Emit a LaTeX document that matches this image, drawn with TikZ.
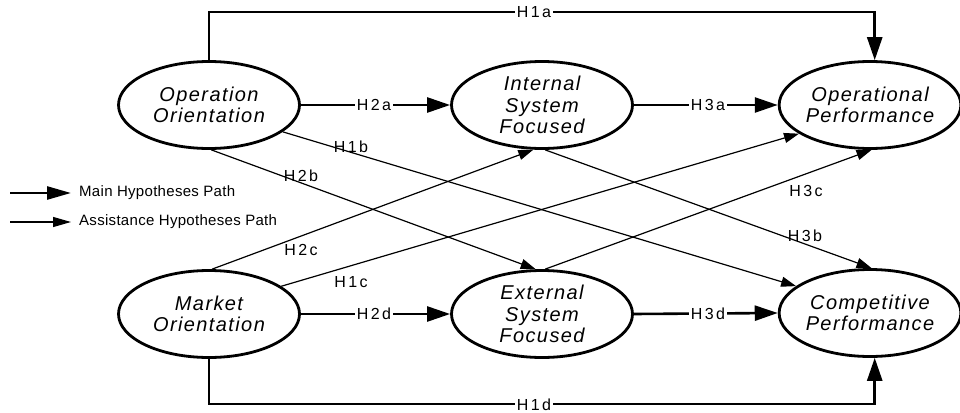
\documentclass[tikz,border=0pt]{standalone}
\usepackage{fontspec}
\setmainfont{Liberation Sans}
\newfontfamily\ellfont[LetterSpace=7]{Liberation Sans}
\newfontfamily\labfont[LetterSpace=15]{Liberation Sans}
\newfontfamily\legfont[LetterSpace=2]{Liberation Sans}
\usetikzlibrary{arrows.meta,shapes.geometric}
\begin{document}
\begin{tikzpicture}[x=1pt,y=-1pt,
  construct/.style={ellipse, draw, line width=2.8pt, minimum width=181pt, minimum height=87pt,
    inner sep=0pt, align=center, font=\ellfont\itshape\fontsize{20}{21.5}\selectfont},
  mainpath/.style={line width=2.6pt, -{Triangle[length=23pt,width=15pt]}},
  assist/.style={line width=1.2pt, -{Triangle[length=15pt,width=10pt]}},
  hyp/.style={font=\labfont\fontsize{16}{18}\selectfont, inner xsep=1.5pt, inner ysep=0pt},
  hypgap/.style={hyp, fill=white},
  legtext/.style={font=\legfont\fontsize{15}{17}\selectfont, inner sep=0pt, anchor=west},
]
\useasboundingbox (0,0) rectangle (960,412);

% constructs
\node[construct] (oo) at (209,105) {Operation\\Orientation};
\node[construct] (isf) at (542,105) {Internal\\System\\Focused};
\node[construct, minimum width=176pt] (op) at (870,105) {Operational\\Performance};
\node[construct] (mo) at (209,314) {Market\\Orientation};
\node[construct] (esf) at (542,314) {External\\System\\Focused};
\node[construct, minimum width=176pt] (cp) at (870,313) {Competitive\\Performance};

% main paths
\draw[mainpath] (oo.east) -- (isf.west);
\draw[mainpath] (isf.east) -- (op.west);
\draw[mainpath] (mo.east) -- (esf.west);
\draw[mainpath] (esf.east) -- (cp.west);
\draw[mainpath] (oo.north) -- ++(0,-48) -| (op.84);
\draw[mainpath] (mo.south) -- ++(0,45) -| (cp.-84);

\node[hypgap] (h2a) at (374,105) {H2a};
\node[hypgap] (h3a) at (708,105) {H3a};
\node[hypgap] (h2d) at (374,314) {H2d};
\node[hypgap] (h3d) at (708,314) {H3d};
\node[hypgap] (h1a) at (534,12) {H1a};
\node[hypgap] (h1d) at (534,404.5) {H1d};

% assistance paths
\draw[assist] (oo.-20) -- (cp.160);
\draw[assist] (oo.-87) -- (esf.98);
\draw[assist] (mo.86) -- (isf.-101);
\draw[assist] (mo.21) -- (op.-158);
\draw[assist] (isf.-86) -- (cp.88);
\draw[assist] (esf.86) -- (op.-88);

\node[hyp] (h1b) at (351,147) {H1b};
\node[hyp] (h2b) at (301,176) {H2b};
\node[hyp] (h2c) at (301,250) {H2c};
\node[hyp] (h1c) at (351,282) {H1c};
\node[hyp] (h3b) at (805,236) {H3b};
\node[hyp] (h3c) at (806,191) {H3c};

% legend
\coordinate (la) at (10,193);
\coordinate (lb) at (10,222);
\node[legtext] (lm) at (79,193) {Main Hypotheses Path};
\node[legtext] (ls) at (79,222) {Assistance Hypotheses Path};
\draw[line width=2.6pt, -{Triangle[length=24pt,width=13pt]}, shorten >=8pt] (la) -- (lm.west);
\draw[line width=1.2pt, -{Triangle[length=18pt,width=10pt]}, shorten >=8pt] (lb) -- (ls.west);
\end{tikzpicture}
\end{document}
